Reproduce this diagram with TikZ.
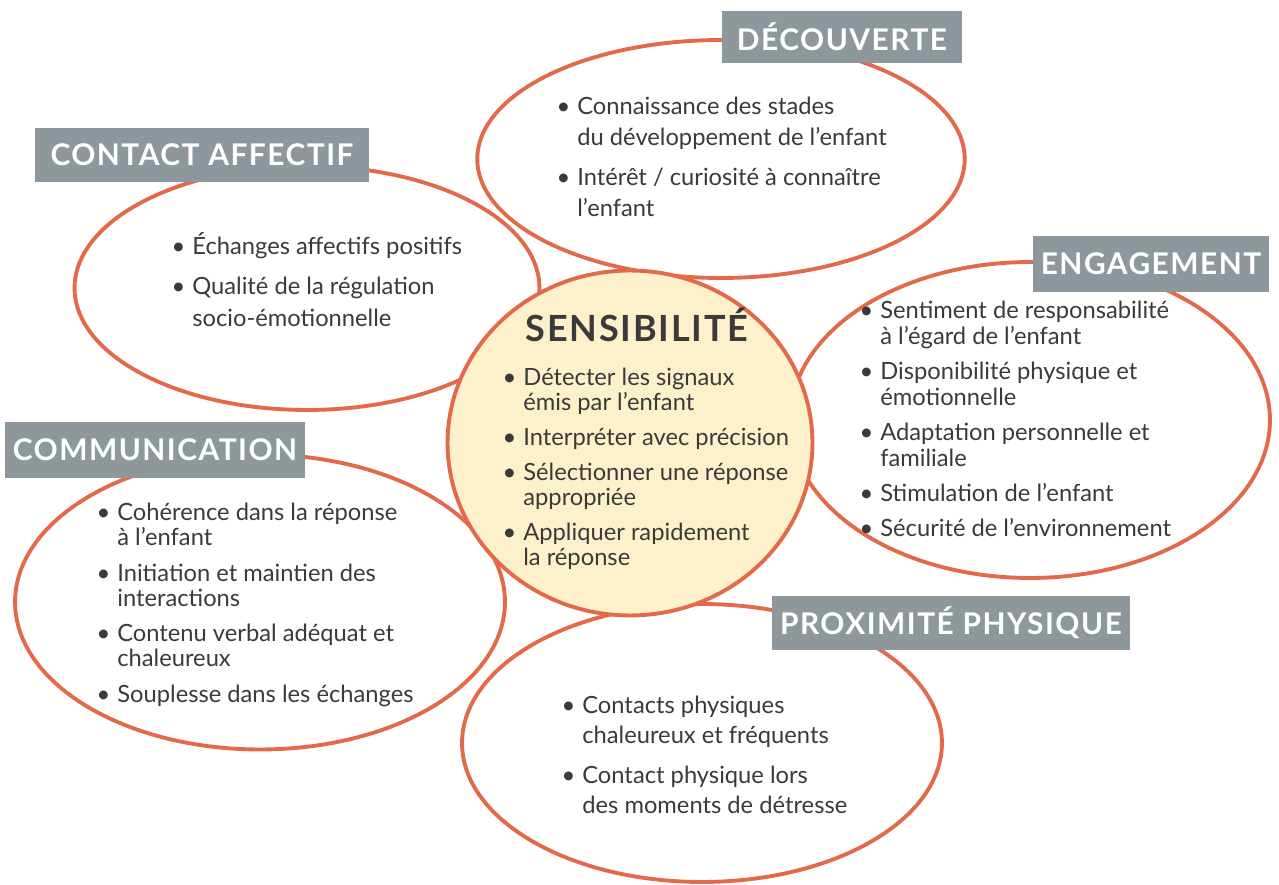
\documentclass[tikz,border=0pt]{standalone}
\usepackage{fontspec}
\setmainfont{Lato}
\usetikzlibrary{shapes.geometric}
\definecolor{rouge}{RGB}{228,104,74}
\definecolor{gris}{RGB}{142,152,156}
\definecolor{creme}{RGB}{252,241,203}
\definecolor{texte}{RGB}{58,58,58}
\newcommand{\puce}{\llap{\textbullet\hspace{4pt}}}
\newcommand{\debut}{\rule{0pt}{14pt}}

\begin{document}
\begin{tikzpicture}[
      x=0.02cm,y=-0.02cm,
      petale/.style={
        draw=rouge,
        line width=2.2pt,
        ellipse,
        inner sep=0pt
      },
      coeur/.style={
        petale,
        fill=creme
      },
      heading/.style={
        fill=gris,
        text=white,
        inner sep=0pt,
        font=\fontsize{17}{19}\selectfont\bfseries\addfontfeature{LetterSpace=5}
      },
      liste/.style={
        anchor=north west,
        align=left,
        inner sep=0pt,
        text=texte,
        font=\fontsize{13.5}{#1}\selectfont
      }
    ]
    \useasboundingbox (0,0) rectangle (1279,885);

    % petals
    \node[petale,minimum width=9.75cm,minimum height=4.76cm] (decouverte) at (721,159) {};
    \node[petale,minimum width=9.3cm,minimum height=4.88cm] (affectif) at (307,288) {};
    \node[petale,minimum width=9.6cm,minimum height=6.32cm] (engagement) at (1030,420) {};
    \node[petale,minimum width=9.8cm,minimum height=5.9cm] (communication) at (260,602) {};
    \node[petale,minimum width=9.6cm,minimum height=5.56cm] (proximite) at (702,743) {};
    \node[coeur,minimum width=7.3cm,minimum height=6.9cm] (sensibilite) at (630,443) {};

    % headings
    \node[heading,minimum width=4.8cm,minimum height=1.06cm] (h-decouverte) at (842,37) {DÉCOUVERTE};
    \node[heading,minimum width=6.7cm,minimum height=1.1cm] (h-affectif) at (202,155) {CONTACT AFFECTIF};
    \node[heading,minimum width=4.74cm,minimum height=1.12cm] (h-engagement) at (1151,264) {ENGAGEMENT};
    \node[heading,minimum width=6cm,minimum height=1.12cm] (h-communication) at (155,450) {COMMUNICATION};
    \node[heading,minimum width=7.16cm,minimum height=1.08cm] (h-proximite) at (951,623) {PROXIMITÉ PHYSIQUE};

    \node[text=texte,font=\fontsize{20.5}{23}\selectfont\bfseries\addfontfeature{LetterSpace=5}] (titre) at (637,325) {SENSIBILITÉ};

    % lists
    \node[liste=17.6pt] (l-decouverte) at (577,90) {\debut\puce Connaissance des stades\\du développement de l’enfant\\[5pt]\puce Intérêt / curiosité à connaître\\l’enfant};
    \node[liste=18pt] (l-affectif) at (192,230) {\debut\puce Échanges affectifs positifs\\[4.5pt]\puce Qualité de la régulation\\socio-émotionnelle};
    \node[liste=14.8pt] (l-engagement) at (880,294) {\debut\puce Sentiment de responsabilité\\à l’égard de l’enfant\\[5pt]\puce Disponibilité physique et\\émotionnelle\\[5pt]\puce Adaptation personnelle et\\familiale\\[5pt]\puce Stimulation de l’enfant\\[5pt]\puce Sécurité de l’environnement};
    \node[liste=14.2pt] (l-sensibilite) at (523,361) {\debut\puce Détecter les signaux\\émis par l’enfant\\[5.7pt]\puce Interpréter avec précision\\[5.7pt]\puce Sélectionner une réponse\\appropriée\\[5.7pt]\puce Appliquer rapidement\\la réponse};
    \node[liste=14.2pt] (l-communication) at (117,496) {\debut\puce Cohérence dans la réponse\\à l’enfant\\[6pt]\puce Initiation et maintien des\\interactions\\[6pt]\puce Contenu verbal adéquat et\\chaleureux\\[6pt]\puce Souplesse dans les échanges};
    \node[liste=17pt] (l-proximite) at (582,689) {\debut\puce Contacts physiques\\chaleureux et fréquents\\[5.7pt]\puce Contact physique lors\\des moments de détresse};

  \end{tikzpicture}
\end{document}
